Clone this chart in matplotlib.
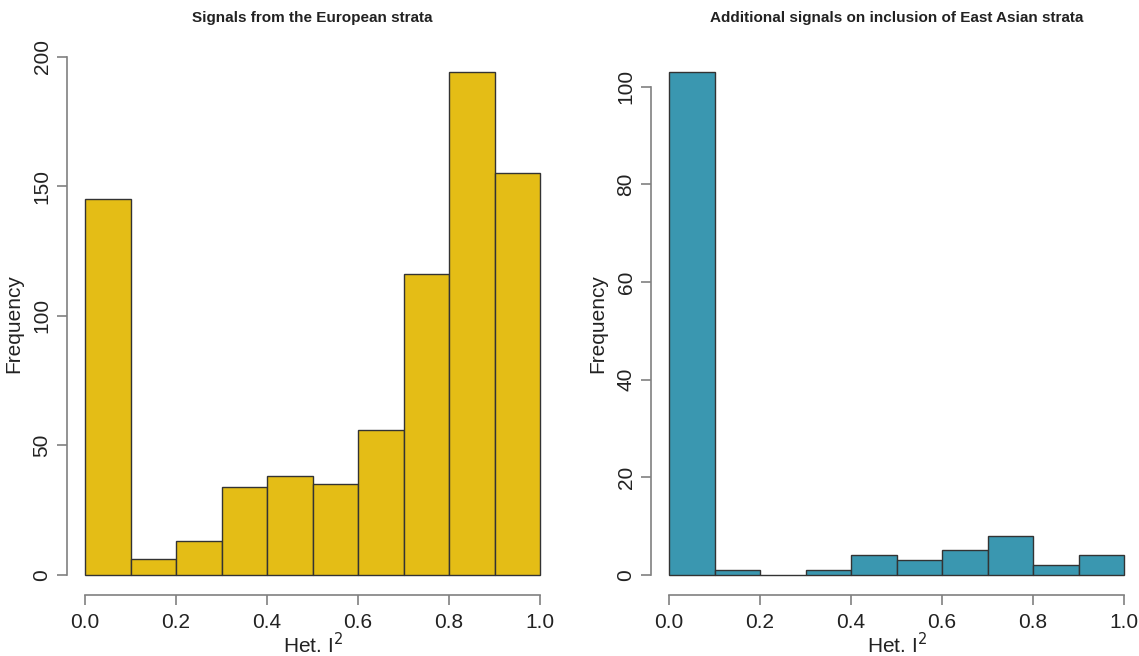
import matplotlib
matplotlib.use("Agg")
import matplotlib.pyplot as plt
import numpy as np

plt.rcParams['font.family'] = ['Liberation Sans', 'DejaVu Sans']

bin_edges = [0.0, 0.1, 0.2, 0.3, 0.4, 0.5, 0.6, 0.7, 0.8, 0.9, 1.0]
eur_counts = [145, 6, 13, 34, 38, 35, 56, 116, 194, 155]
eas_counts = [103, 1, 0, 1, 4, 3, 5, 8, 2, 4]
eur_title = "Signals from the European strata"
eas_title = "Additional signals on inclusion of East Asian strata"
xticks = [0.0, 0.2, 0.4, 0.6, 0.8, 1.0]
eur_yticks = [0, 50, 100, 150, 200]
eas_yticks = [0, 20, 40, 60, 80, 100]

fig = plt.figure(figsize=(11.39, 6.56), dpi=100)
W, H = 1139, 656
bot_px, top_px = 595, 52


def make_ax(left_px, right_px):
    return fig.add_axes([left_px / W, 1 - bot_px / H, (right_px - left_px) / W, (bot_px - top_px) / H])


def draw(ax, counts, color, title, yticks):
    edges = np.array(bin_edges)
    ax.bar(edges[:-1], counts, width=np.diff(edges), align='edge', color=color,
           edgecolor='#333333', linewidth=1.0)
    ymax = max(counts)
    ax.set_xlim(-0.04, 1.04)
    ax.set_ylim(-0.04 * ymax, 1.04 * ymax)
    for s in ['top', 'right']:
        ax.spines[s].set_visible(False)
    for s in ['left', 'bottom']:
        ax.spines[s].set_color('#808080')
        ax.spines[s].set_linewidth(1.2)
    ax.spines['left'].set_bounds(yticks[0], yticks[-1])
    ax.spines['bottom'].set_bounds(xticks[0], xticks[-1])
    ax.set_xticks(xticks)
    ax.set_xticklabels([f"{v:.1f}" for v in xticks])
    ax.set_yticks(yticks)
    ax.set_yticklabels([str(v) for v in yticks], rotation=90, va='center')
    ax.tick_params(axis='both', length=7, width=1.2, color='#808080', labelsize=15,
                   labelcolor='#222222', pad=4)
    ax.tick_params(axis='x', pad=6)
    ax.text(0.5, 1.062, title, transform=ax.transAxes, ha='center', va='center',
            fontsize=11, fontweight='bold', color='#222222')
    ax.text(0.5, -0.092, r"Het. I$^2$", transform=ax.transAxes, ha='center', va='center',
            fontsize=15, color='#222222')
    ax.text(-0.108, 0.5, "Frequency", transform=ax.transAxes, ha='center', va='center',
            rotation=90, fontsize=15, color='#222222')


ax1 = make_ax(66.8, 558.2)
draw(ax1, eur_counts, '#E4BD16', eur_title, eur_yticks)
ax2 = make_ax(650.8, 1142.2)
draw(ax2, eas_counts, '#3A97B0', eas_title, eas_yticks)

fig.savefig("out.png", dpi=100, facecolor='white')
